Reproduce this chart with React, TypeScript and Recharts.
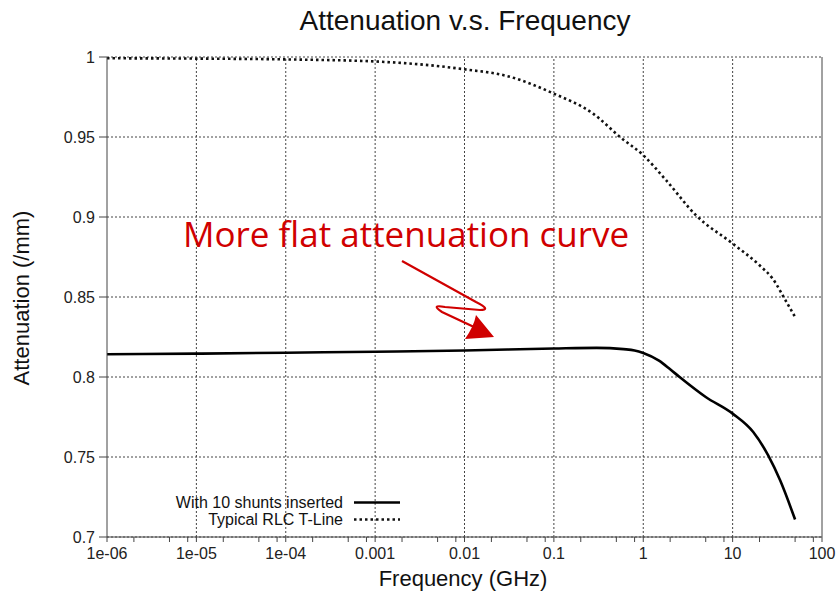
import {CartesianGrid, Line, LineChart, ReferenceLine, XAxis, YAxis} from 'recharts';

// Frequency in GHz, attenuation in /mm
const shuntFreq = [1e-6, 1e-5, 1e-4, 1e-3, 0.01, 0.1, 0.3, 0.6, 0.8, 1, 1.5, 2, 2.55, 5, 10, 17, 25, 34, 50];
const shuntAtt = [0.8142, 0.8146, 0.8152, 0.8158, 0.8166, 0.8178, 0.8182, 0.8174, 0.8166, 0.815, 0.8102, 0.8048, 0.8, 0.7875, 0.7771, 0.7656, 0.751, 0.7354, 0.7109];

const rlcFreq = [1e-6, 1e-5, 1e-4, 1e-3, 0.0053, 0.01, 0.03, 0.1, 0.275, 0.55, 1, 1.8, 3.9, 10, 20, 28, 40, 50];
const rlcAtt = [0.9992, 0.999, 0.9985, 0.9972, 0.9942, 0.9923, 0.9881, 0.9771, 0.9646, 0.95, 0.9386, 0.923, 0.901, 0.8834, 0.8698, 0.8615, 0.8469, 0.8375];

const majorTicks = [1e-6, 1e-5, 1e-4, 1e-3, 0.01, 0.1, 1, 10, 100];
const majorLabels = ['1e-06', '1e-05', '1e-04', '0.001', '0.01', '0.1', '1', '10', '100'];
const minorSteps = [2, 5, 8];
const yTicks = [0.7, 0.75, 0.8, 0.85, 0.9, 0.95, 1];

const shuntData = shuntFreq.map((f, i) => ({f, v: shuntAtt[i]}));
const rlcData = rlcFreq.map((f, i) => ({f, v: rlcAtt[i]}));
const xTicks = [
  ...majorTicks,
  ...majorTicks.slice(0, -1).flatMap((m) => minorSteps.map((s) => m * s)),
].sort((a, b) => a - b);

const FONT = '"Liberation Sans", Arial, sans-serif';
const RED = '#d00000';

const fmtX = (v: number) => {
  const i = majorTicks.findIndex((m) => Math.abs(m - v) / m < 1e-6);
  return i >= 0 ? majorLabels[i] : '';
};

export default function App() {
  return (
    <div style={{position: 'absolute', left: 0, top: 0, width: 840, height: 595, background: '#fff', fontFamily: FONT}}>
      <LineChart width={840} height={595} margin={{top: 57, right: 0, bottom: 0, left: 0}}>
        <CartesianGrid vertical={false} stroke="#444" strokeDasharray="2 2" yAxisId="left" />
        <XAxis
          dataKey="f"
          type="number"
          scale="log"
          domain={[1e-6, 100]}
          allowDataOverflow
          ticks={xTicks}
          interval={0}
          tickFormatter={fmtX}
          tickSize={5}
          tickMargin={6}
          height={58}
          stroke="#444"
          tick={{fill: '#222', fontSize: 16, fontFamily: FONT}}
        />
        <XAxis
          xAxisId="top"
          orientation="top"
          dataKey="f"
          type="number"
          scale="log"
          domain={[1e-6, 100]}
          allowDataOverflow
          ticks={xTicks}
          interval={0}
          tickFormatter={() => ''}
          tickSize={5}
          height={0}
          stroke="#444"
        />
        <YAxis
          yAxisId="left"
          type="number"
          domain={[0.7, 1]}
          ticks={yTicks}
          interval={0}
          tickFormatter={(v: number) => String(+v.toFixed(2))}
          tickSize={8}
          tickMargin={4}
          width={107}
          stroke="#444"
          tick={{fill: '#222', fontSize: 16, fontFamily: FONT}}
        />
        <YAxis
          yAxisId="right"
          orientation="right"
          type="number"
          domain={[0.7, 1]}
          ticks={yTicks}
          tickFormatter={() => ''}
          tickSize={5}
          width={18}
          stroke="#444"
        />
        {majorTicks.slice(1, -1).map((m) => (
          <ReferenceLine key={m} x={m} yAxisId="left" stroke="#444" strokeDasharray="2 2" />
        ))}
        <Line
          data={rlcData}
          dataKey="v"
          yAxisId="left"
          type="monotone"
          stroke="#111"
          strokeWidth={2.6}
          strokeDasharray="2.5 3"
          dot={false}
          isAnimationActive={false}
        />
        <Line
          data={shuntData}
          dataKey="v"
          yAxisId="left"
          type="monotone"
          stroke="#000"
          strokeWidth={2.6}
          dot={false}
          isAnimationActive={false}
        />
      </LineChart>
      <svg width={840} height={595} style={{position: 'absolute', left: 0, top: 0, pointerEvents: 'none'}}>
        <text x={465} y={30} textAnchor="middle" fontSize={28} fill="#111" fontFamily={FONT}>
          Attenuation v.s. Frequency
        </text>
        <text x={463} y={586} textAnchor="middle" fontSize={22} fill="#111" fontFamily={FONT}>
          Frequency (GHz)
        </text>
        <text
          x={29}
          y={298}
          textAnchor="middle"
          fontSize={22}
          fill="#111"
          fontFamily={FONT}
          transform="rotate(-90 29 298)"
        >
          Attenuation (/mm)
        </text>
        <g fontFamily={FONT} fontSize={16} fill="#111">
          <text x={343} y={508} textAnchor="end">With 10 shunts inserted</text>
          <line x1={354} y1={502.5} x2={400} y2={502.5} stroke="#000" strokeWidth={2.6} />
          <text x={343} y={525} textAnchor="end">Typical RLC T-Line</text>
          <line x1={354} y1={519.5} x2={400} y2={519.5} stroke="#111" strokeWidth={2.6} strokeDasharray="2.5 3" />
        </g>
        <text x={183} y={247} fontSize={35} fill={RED} fontFamily='"Open Sans", "Noto Sans", sans-serif'>
          More flat attenuation curve
        </text>
        <path
          d="M402 261 L476 302 Q492 310 480 310 L445 307 Q430 304 442 312 L474 327"
          fill="none"
          stroke={RED}
          strokeWidth={2.2}
        />
        <path d="M494 337 L476 315 Q474 326 465 339 Z" fill={RED} />
      </svg>
    </div>
  );
}
